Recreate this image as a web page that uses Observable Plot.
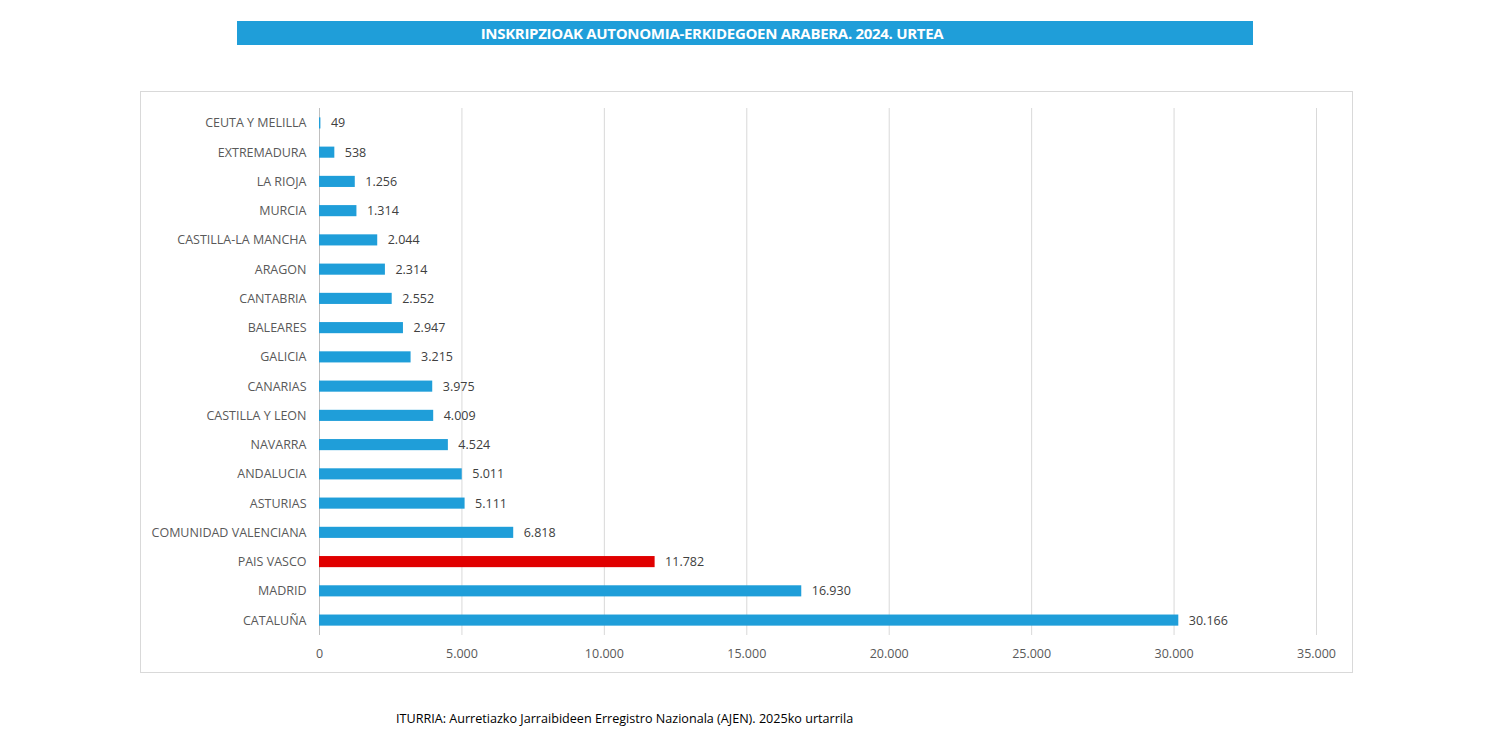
<!DOCTYPE html>
<html>
<head>
<meta charset="utf-8">
<script src="https://cdn.jsdelivr.net/npm/d3@7"></script>
<script src="https://cdn.jsdelivr.net/npm/@observablehq/plot@0.6"></script>
<style>
  html, body { margin: 0; padding: 0; background: #fff; }
  body { width: 1500px; height: 750px; position: relative; font-family: "Open Sans", sans-serif; }
  #title { position: absolute; left: 237px; top: 21px; width: 950px; padding-right: 66px; height: 24px; background: #1f9ed9;
    color: #fff; font-weight: bold; font-size: 15px; line-height: 24px; text-align: center; letter-spacing: -0.3px; }
  #box { position: absolute; left: 140px; top: 91px; width: 1211px; height: 580px; border: 1px solid #d9d9d9; }
  #chart { position: absolute; left: 140px; top: 91px; }
  #source { position: absolute; left: 396px; top: 710px; font-size: 12.6px; color: #000; }
</style>
</head>
<body>
<div id="title">INSKRIPZIOAK AUTONOMIA-ERKIDEGOEN ARABERA. 2024. URTEA</div>
<div id="box"></div>
<div id="chart"></div>
<div id="source">ITURRIA: Aurretiazko Jarraibideen Erregistro Nazionala (AJEN). 2025ko urtarrila</div>
<script>
const regions = ["CEUTA Y MELILLA","EXTREMADURA","LA RIOJA","MURCIA","CASTILLA-LA MANCHA","ARAGON","CANTABRIA","BALEARES","GALICIA","CANARIAS","CASTILLA Y LEON","NAVARRA","ANDALUCIA","ASTURIAS","COMUNIDAD VALENCIANA","PAIS VASCO","MADRID","CATALUÑA"];
const values = [49,538,1256,1314,2044,2314,2552,2947,3215,3975,4009,4524,5011,5111,6818,11782,16930,30166];
const highlight = "PAIS VASCO";
const xTicks = [0,5000,10000,15000,20000,25000,30000,35000];

const data = regions.map((r, i) => ({region: r, value: values[i]}));
const locale = d3.formatLocale({decimal: ",", thousands: ".", grouping: [3], currency: ["", "€"]});
const fmt = locale.format(",d");

const chart = Plot.plot({
  width: 1212,
  height: 581,
  marginLeft: 179,
  marginRight: 36,
  marginTop: 17,
  marginBottom: 37,
  style: {fontFamily: "Open Sans, sans-serif", fontSize: "12.5px", color: "#595959", background: "transparent"},
  x: {domain: [0, 35000], ticks: xTicks, tickFormat: fmt, tickSize: 0, tickPadding: 14, label: null},
  y: {domain: regions, round: false, paddingInner: 0.62, paddingOuter: 0.32, tickSize: 0, tickPadding: 13, label: null},
  marks: [
    Plot.ruleX(xTicks.slice(1), {stroke: "#d9d9d9", strokeWidth: 1}),
    Plot.ruleX([0], {stroke: "#bfbfbf", strokeWidth: 1}),
    Plot.barX(data, {y: "region", x: "value", fill: d => d.region === highlight ? "#e00000" : "#1f9ed9"}),
    Plot.text(data, {y: "region", x: "value", text: d => fmt(d.value), dx: 10, textAnchor: "start", fill: "#404040", fontSize: 12.5})
  ]
});
document.getElementById("chart").appendChild(chart);
</script>
</body>
</html>
